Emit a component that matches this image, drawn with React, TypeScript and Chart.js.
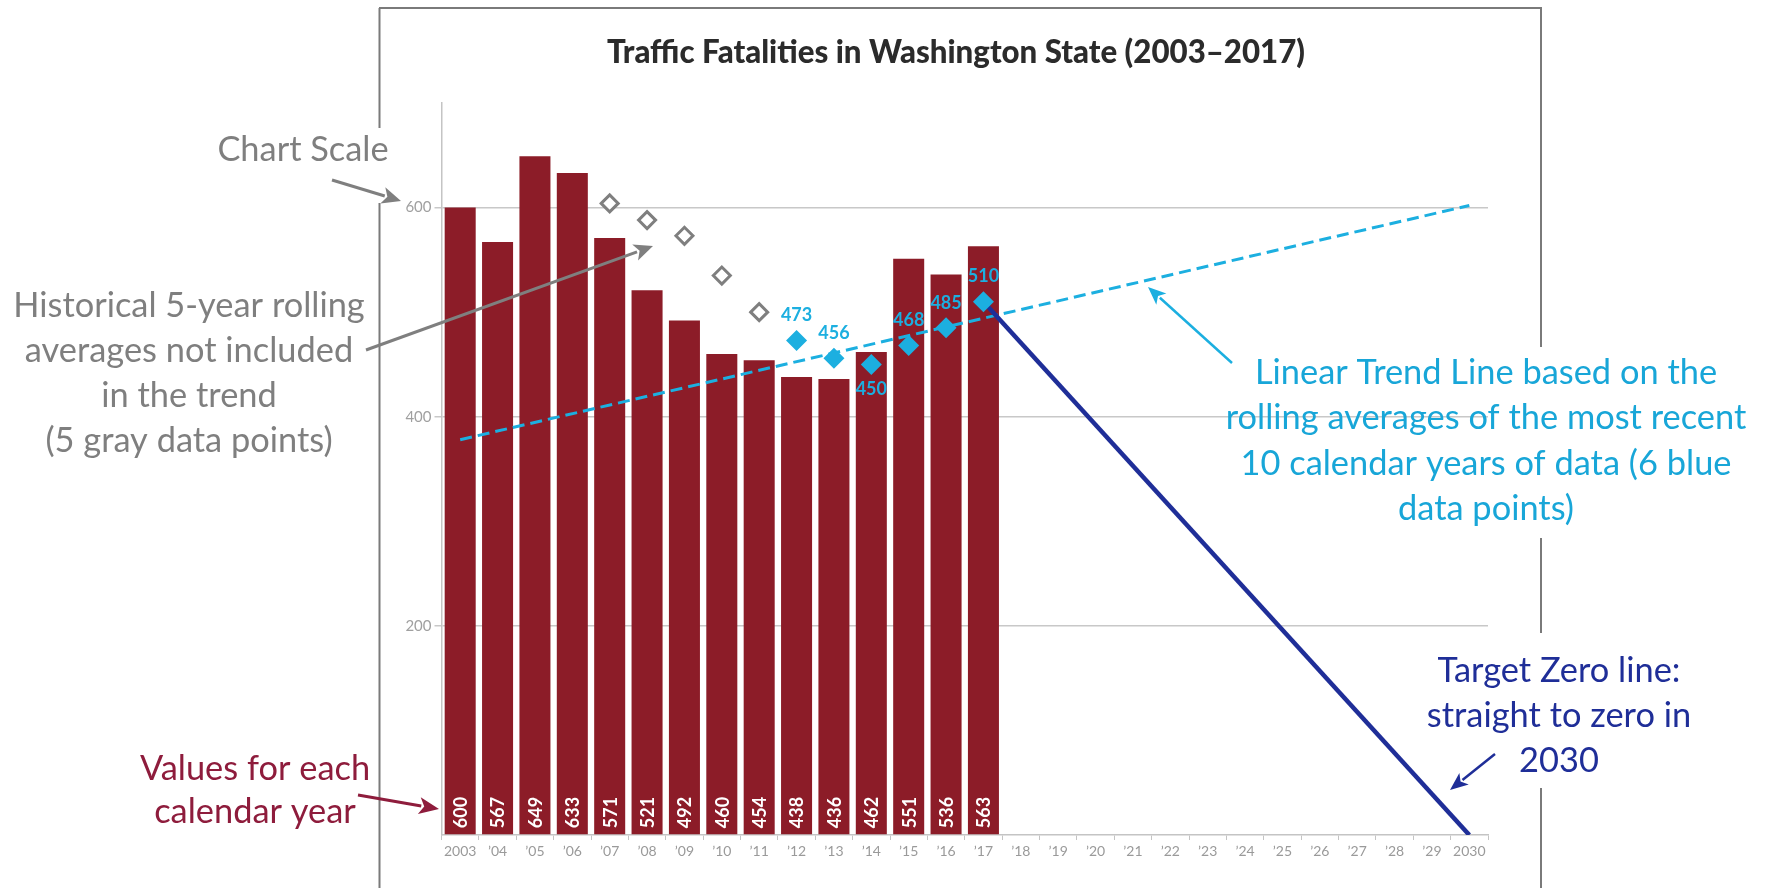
import React, { useEffect, useRef } from 'react';
import { Chart, registerables } from 'chart.js';

Chart.register(...registerables);

// ---------- DATA ----------
const yearLabels = [
  '2003', '’04', '’05', '’06', '’07', '’08', '’09', '’10', '’11', '’12', '’13', '’14', '’15', '’16',
  '’17', '’18', '’19', '’20', '’21', '’22', '’23', '’24', '’25', '’26', '’27', '’28', '’29', '2030',
];
const annualFatalities = [600, 567, 649, 633, 571, 521, 492, 460, 454, 438, 436, 462, 551, 536, 563];

const grayYears = ['’07', '’08', '’09', '’10', '’11'];
const grayAverages = [604, 588, 573, 535, 500];

const blueYears = ['’12', '’13', '’14', '’15', '’16', '’17'];
const blueAverages = [473, 456, 450, 468, 485, 510];
const blueLabelBelow = [false, false, true, false, false, false];

const trendYears = ['2003', '2030'];
const trendValues = [378, 602];

const targetYears = ['’17', '2030'];
const targetValues = [510, 0];

const yGridValues = [200, 400, 600];

const titleText = 'Traffic Fatalities in Washington State (2003–2017)';

// ---------- STYLE ----------
const BAR_COLOR = '#8c1c28';
const CYAN = '#1cafe0';
const CYAN_TEXT = '#18a6d8';
const NAVY = '#1f2e98';
const GRAY = '#7f7f7f';
const MAROON = '#8e1c3c';
const FONT = 'Lato, "Open Sans", sans-serif';

function drawArrow(ctx: CanvasRenderingContext2D, x1: number, y1: number, x2: number, y2: number,
  color: string, width: number, headLen: number, headW: number) {
  const ang = Math.atan2(y2 - y1, x2 - x1);
  const bx = x2 - Math.cos(ang) * headLen;
  const by = y2 - Math.sin(ang) * headLen;
  ctx.save();
  ctx.strokeStyle = color;
  ctx.fillStyle = color;
  ctx.lineWidth = width;
  ctx.beginPath();
  ctx.moveTo(x1, y1);
  ctx.lineTo(bx + Math.cos(ang) * 2, by + Math.sin(ang) * 2);
  ctx.stroke();
  const px = -Math.sin(ang) * headW / 2;
  const py = Math.cos(ang) * headW / 2;
  ctx.beginPath();
  ctx.moveTo(x2, y2);
  ctx.lineTo(bx + px, by + py);
  ctx.lineTo(bx + Math.cos(ang) * headLen * 0.25, by + Math.sin(ang) * headLen * 0.25);
  ctx.lineTo(bx - px, by - py);
  ctx.closePath();
  ctx.fill();
  ctx.restore();
}

function drawBlock(ctx: CanvasRenderingContext2D, lines: string[], cx: number, ys: number[], color: string, size: number) {
  ctx.save();
  ctx.fillStyle = color;
  ctx.font = `${size}px ${FONT}`;
  ctx.textAlign = 'center';
  ctx.textBaseline = 'middle';
  lines.forEach((l, i) => ctx.fillText(l, cx, ys[i]));
  ctx.restore();
}

const overlayPlugin = {
  id: 'overlay',
  afterDatasetsDraw(chart: any) {
    const ctx: CanvasRenderingContext2D = chart.ctx;
    ctx.save();
    // bar value labels (rotated, at the bottom of each bar)
    const barMeta = chart.getDatasetMeta(0);
    ctx.fillStyle = '#ffffff';
    ctx.font = `bold 18px ${FONT}`;
    ctx.textAlign = 'left';
    ctx.textBaseline = 'middle';
    barMeta.data.forEach((el: any, i: number) => {
      if (annualFatalities[i] == null) return;
      ctx.save();
      ctx.translate(el.x + 1, el.base - 6);
      ctx.rotate(-Math.PI / 2);
      ctx.fillText(String(annualFatalities[i]), 0, 0);
      ctx.restore();
    });
    // blue point labels
    const blueMeta = chart.getDatasetMeta(4);
    ctx.fillStyle = CYAN;
    ctx.font = `bold 18px ${FONT}`;
    ctx.textAlign = 'center';
    blueMeta.data.forEach((pt: any, i: number) => {
      const dy = blueLabelBelow[i] ? 25 : -25;
      ctx.fillText(String(blueAverages[i]), pt.x, pt.y + dy);
    });
    ctx.restore();
  },
  afterDraw(chart: any) {
    const ctx: CanvasRenderingContext2D = chart.ctx;
    ctx.save();
    // frame (segments interrupted by the annotation boxes)
    ctx.strokeStyle = '#7a7a7a';
    ctx.lineWidth = 2;
    ctx.beginPath();
    ctx.moveTo(379, 8); ctx.lineTo(1542, 8);
    ctx.moveTo(379.5, 8); ctx.lineTo(379.5, 128);
    ctx.moveTo(379.5, 203); ctx.lineTo(379.5, 888);
    ctx.moveTo(1541, 8); ctx.lineTo(1541, 347);
    ctx.moveTo(1541, 538); ctx.lineTo(1541, 633);
    ctx.moveTo(1541, 788); ctx.lineTo(1541, 888);
    ctx.stroke();

    // title
    ctx.fillStyle = '#2b2b2b';
    ctx.font = `900 32px ${FONT}`;
    ctx.textAlign = 'center';
    ctx.textBaseline = 'middle';
    ctx.fillText(titleText, 956, 53, 698);

    // annotation font size fitted to the reference line width
    ctx.font = `100px ${FONT}`;
    const w = ctx.measureText('Historical 5-year rolling').width;
    const size = Math.round((100 * 352 / w) * 10) / 10;
    ctx.restore();

    drawBlock(ctx, ['Chart Scale'], 303, [150], GRAY, size);
    drawBlock(ctx, ['Historical 5-year rolling', 'averages not included', 'in the trend', '(5 gray data points)'],
      189, [306, 351, 396, 441], GRAY, size);
    drawBlock(ctx, ['Values for each', 'calendar year'], 255, [769, 812], MAROON, size);
    drawBlock(ctx, ['Linear Trend Line based on the', 'rolling averages of the most recent',
      '10 calendar years of data (6 blue', 'data points)'], 1486, [373, 418, 464, 509], CYAN_TEXT, size);
    drawBlock(ctx, ['Target Zero line:', 'straight to zero in', '2030'], 1559, [671, 716, 761], NAVY, size);

    // arrows
    drawArrow(ctx, 332, 180, 401, 201, GRAY, 3, 19, 17);
    drawArrow(ctx, 366, 350, 653, 246, GRAY, 3, 19, 17);
    drawArrow(ctx, 358, 795, 439, 809, MAROON, 3, 20, 17);
    drawArrow(ctx, 1232, 363, 1148, 287, CYAN, 2.5, 18, 15);
    drawArrow(ctx, 1495, 754, 1450, 790, NAVY, 2.5, 18, 15);
  },
};

export default function App() {
  const ref = useRef<HTMLCanvasElement | null>(null);

  useEffect(() => {
    if (!ref.current) return;
    const chart = new Chart(ref.current, {
      type: 'bar',
      data: {
        labels: yearLabels,
        datasets: [
          {
            type: 'bar',
            label: 'Annual fatalities',
            data: annualFatalities,
            backgroundColor: BAR_COLOR,
            barPercentage: 0.83,
            categoryPercentage: 1.0,
            order: 5,
          },
          {
            type: 'line',
            label: 'Historical 5-year averages',
            data: grayYears.map((x, i) => ({ x, y: grayAverages[i] })),
            showLine: false,
            pointStyle: 'rectRot',
            pointRadius: 8.5,
            pointBackgroundColor: '#ffffff',
            pointBorderColor: GRAY,
            pointBorderWidth: 3,
            order: 1,
          },
          {
            type: 'line',
            label: 'Linear trend',
            data: trendYears.map((x, i) => ({ x, y: trendValues[i] })),
            borderColor: CYAN,
            borderWidth: 3,
            borderDash: [12, 6],
            pointRadius: 0,
            fill: false,
            order: 3,
          },
          {
            type: 'line',
            label: 'Target Zero',
            data: targetYears.map((x, i) => ({ x, y: targetValues[i] })),
            borderColor: NAVY,
            borderWidth: 4.5,
            pointRadius: 0,
            fill: false,
            order: 2,
          },
          {
            type: 'line',
            label: 'Recent 5-year averages',
            data: blueYears.map((x, i) => ({ x, y: blueAverages[i] })),
            showLine: false,
            pointStyle: 'rectRot',
            pointRadius: 10.5,
            pointBackgroundColor: CYAN,
            pointBorderColor: CYAN,
            pointBorderWidth: 0,
            order: 0,
          },
        ],
      },
      options: {
        responsive: false,
        animation: false,
        devicePixelRatio: 1,
        layout: { padding: { left: 0, top: 103, right: 281, bottom: 0 } },
        plugins: {
          legend: { display: false },
          title: { display: false },
          tooltip: { enabled: false },
        },
        scales: {
          x: {
            type: 'category',
            offset: true,
            grid: {
              offset: true,
              drawOnChartArea: false,
              drawTicks: true,
              tickLength: 5,
              color: '#c4c4c4',
            },
            border: { color: '#c4c4c4', width: 1.5 },
            ticks: {
              autoSkip: false,
              maxRotation: 0,
              minRotation: 0,
              padding: 3,
              color: '#9a9a9a',
              font: { family: FONT, size: 14 },
            },
            afterFit: (s: any) => { s.height = 53; },
          },
          y: {
            min: 0,
            max: 700,
            ticks: {
              stepSize: 200,
              padding: 3,
              color: '#a0a0a0',
              font: { family: FONT, size: 15 },
              callback: (v: any) => (yGridValues.includes(Number(v)) ? String(v) : ''),
            },
            grid: {
              color: (c: any) => (yGridValues.includes(c.tick?.value) ? '#c8c8c8' : 'rgba(0,0,0,0)'),
              lineWidth: 1.5,
              tickLength: 7,
              drawTicks: true,
            },
            border: { color: '#c4c4c4', width: 1.5 },
            afterFit: (s: any) => { s.width = 441.5; },
          },
        },
      },
      plugins: [overlayPlugin],
    } as any);
    return () => chart.destroy();
  }, []);

  return (
    <div style={{ position: 'fixed', left: 0, top: 0, width: 1769, height: 888, background: '#ffffff' }}>
      <canvas ref={ref} width={1769} height={888} style={{ display: 'block' }} />
    </div>
  );
}
